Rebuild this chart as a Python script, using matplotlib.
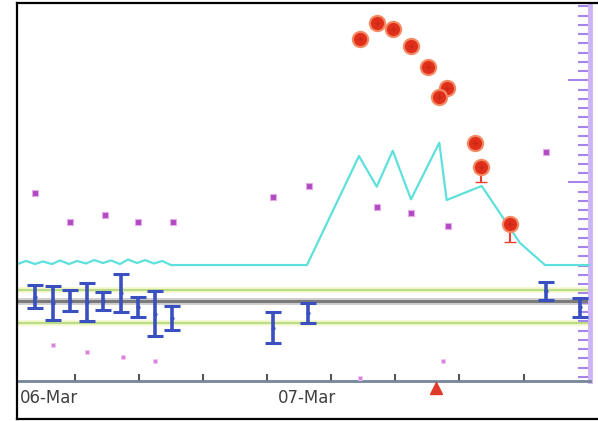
import numpy as np
import matplotlib
matplotlib.use("Agg")
import matplotlib.pyplot as plt
from matplotlib.lines import Line2D
from matplotlib.ticker import FixedLocator, MultipleLocator

# x in hours (06-Mar starts near 0), y in arbitrary units

# cyan line
line_x = [0.6, 1.41, 2.25, 3.00, 3.85, 4.60, 5.44, 6.19, 7.03, 7.78, 8.62, 9.37,
          10.21, 10.96, 11.81, 12.55, 13.40, 14.15, 14.99,
          27.72, 32.59, 34.25, 35.75, 37.46, 40.11, 40.80, 44.08, 47.67, 50.01, 54.22]
line_y = [11.98, 12.28, 11.98, 12.23, 11.98, 12.33, 11.98, 12.28, 12.03, 12.37, 12.08, 12.33,
          11.98, 12.42, 12.08, 12.37, 12.03, 12.28, 11.88,
          11.88, 22.58, 19.57, 23.10, 18.33, 23.89, 18.26, 19.64, 14.04, 11.88, 11.88]

# red points
red_x = [32.69, 34.25, 35.80, 37.46, 39.02, 40.80, 40.11, 43.45, 44.01, 46.73]
red_y = [34.03, 35.66, 35.02, 33.38, 31.35, 29.28, 28.34, 23.89, 21.47, 15.88]
red_err = [0, 0, 0, 0, 0, 0, 0, 0, 1.4, 1.7]
tri_x = [39.80]
tri_y = [-0.19]

# blue error bars
blue_x = [2.25, 3.94, 5.53, 7.12, 8.62, 10.31, 11.90, 13.49, 15.08, 24.54, 27.82, 50.10, 53.28]
blue_y = [8.79, 8.15, 8.40, 8.25, 8.35, 9.14, 7.76, 7.12, 6.69, 5.75, 7.17, 9.34, 7.72]
blue_err = [1.13, 1.67, 1.03, 1.86, 0.88, 1.87, 0.98, 2.20, 1.18, 1.52, 0.98, 0.88, 0.93]

# magenta squares
mag_x = [2.25, 5.53, 8.81, 11.93, 15.15, 24.57, 27.91, 34.31, 37.46, 40.90, 50.10]
mag_y = [18.98, 16.13, 16.79, 16.13, 16.13, 18.59, 19.59, 17.55, 16.96, 15.71, 23.00]
pink_x = [3.97, 7.15, 10.47, 13.49, 40.43, 32.69]
pink_y = [4.03, 3.38, 2.88, 2.49, 2.49, 0.79]

# reference levels
gray_level = 8.35
green_levels = [9.43, 6.19]

day_labels = ["06-Mar", "07-Mar"]
day_pos = [0.85, 25.0]

fig = plt.figure(figsize=(5.98, 4.21), dpi=100)
ax = fig.add_axes([17/598, 40/421, 573/598, 377/421])

for lv in green_levels:
    ax.axhline(lv, color="#f4f6c8", lw=4, zorder=1)
    ax.axhline(lv, color="#b8dc88", lw=1.5, zorder=2)
ax.axhline(gray_level, color="#d0d0d0", lw=5, zorder=1)
ax.axhline(gray_level, color="#7a7a7a", lw=2.2, zorder=2)

ax.plot(line_x, line_y, color="#5ee0dc", lw=1.6, zorder=3)

ax.errorbar(blue_x, blue_y, yerr=blue_err, fmt="o", ms=2, color="#3a4fc0",
            elinewidth=2.6, capsize=6, capthick=2.2, zorder=4)

ax.plot(mag_x, mag_y, "s", ms=4, color="#b04ac0", mec="#e8a8ec", mew=0.8, zorder=3)
ax.plot(pink_x, pink_y, "s", ms=3, color="#d880dc", mec="#f4c8f4", mew=0.6, zorder=3)

ax.errorbar(red_x, red_y, yerr=[red_err, [0]*len(red_err)], fmt="none",
            ecolor="#e84030", elinewidth=1.5, capsize=4, zorder=4)
ax.plot(red_x, red_y, "o", ms=11, color="#e0301c", mec="#f48a64", mew=1.5, zorder=5)
ax.plot(red_x, red_y, "+", ms=5, color="#c82814", mew=1, zorder=6)
ax.plot(tri_x, tri_y, "^", ms=8, color="#e23a2a", clip_on=False, zorder=6)

ax.set_xlim(0.57, 54.22)
ax.set_ylim(0.5, 37.5)

for s in ["top", "left"]:
    ax.spines[s].set_visible(False)
ax.spines["bottom"].set_color("#74869a")
ax.spines["bottom"].set_linewidth(2)
ax.spines["right"].set_color("#cdb4f8")
ax.spines["right"].set_linewidth(3.5)

ax.xaxis.set_major_locator(FixedLocator(np.arange(6, 54, 6)))
ax.tick_params(axis="x", direction="in", length=5, width=1.5, color="#555555",
               labelbottom=False)
ax.yaxis.tick_right()
ax.yaxis.set_major_locator(FixedLocator([20.0, 30.0]))
ax.yaxis.set_minor_locator(MultipleLocator(10/11))
ax.tick_params(axis="y", which="major", direction="in", length=16, width=1.5,
               color="#a585ea", labelright=False)
ax.tick_params(axis="y", which="minor", direction="in", length=9, width=1.5,
               color="#a585ea")

for lab, pos in zip(day_labels, day_pos):
    ax.text(pos, -0.045, lab, transform=ax.get_xaxis_transform(), ha="left",
            va="center", fontsize=12, color="#404040")

# outer black frame
fig.add_artist(Line2D([17/598, 1], [1 - 3/421, 1 - 3/421], color="black", lw=1.6))
fig.add_artist(Line2D([17/598, 17/598], [2/421, 1 - 3/421], color="black", lw=1.6))
fig.add_artist(Line2D([17/598, 1], [2/421, 2/421], color="black", lw=1.6))

fig.savefig("out.png", dpi=100)
